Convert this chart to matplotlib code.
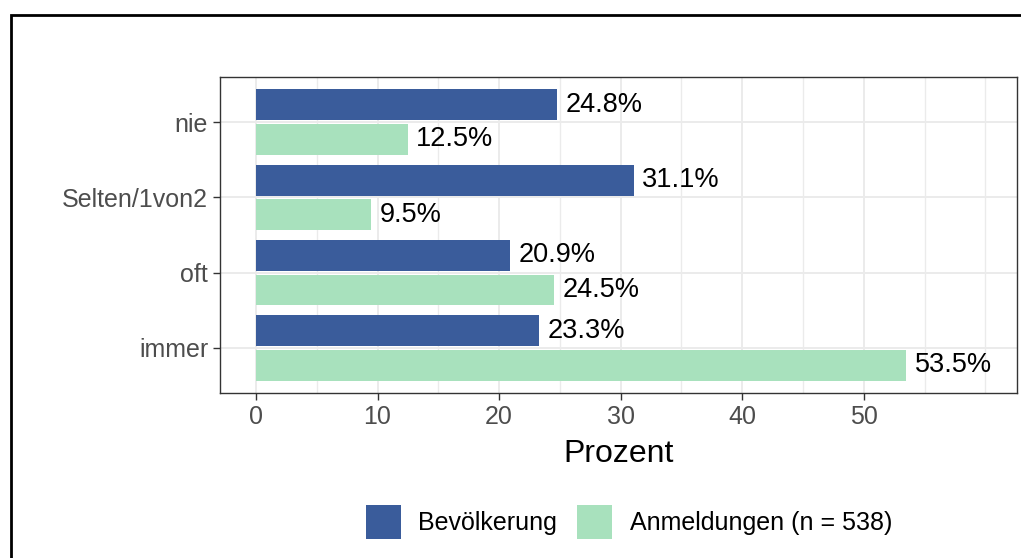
import matplotlib.pyplot as plt
import numpy as np
from matplotlib.patches import Patch, Rectangle

plt.rcParams["font.family"] = ["Liberation Sans", "DejaVu Sans"]

categories = ["nie", "Selten/1von2", "oft", "immer"]
bevoelkerung = [24.8, 31.1, 20.9, 23.3]
anmeldungen = [12.5, 9.5, 24.5, 53.5]
series_names = ["Bevölkerung", "Anmeldungen (n = 538)"]
x_ticks = [0, 10, 20, 30, 40, 50]

blue = "#3A5C9B"
green = "#A8E1BD"
grid_col = "#EBEBEB"

W, H = 1021, 558
fig = plt.figure(figsize=(W / 100, H / 100), dpi=100)
fig.patch.set_facecolor("white")

ax = fig.add_axes([220 / W, 1 - 393 / H, (1017 - 220) / W, (393 - 77) / H])

y = np.arange(len(categories))[::-1]
h = 0.41
d = 0.23
ax.barh(y + d, bevoelkerung, height=h, color=blue, zorder=3)
ax.barh(y - d, anmeldungen, height=h, color=green, zorder=3)

# value labels
for yy, v in zip(y + d, bevoelkerung):
    ax.annotate(f"{v:.1f}%", (v, yy), xytext=(6, 0), textcoords="offset points",
                va="center", ha="left", fontsize=19.5, color="black", zorder=4)
for yy, v in zip(y - d, anmeldungen):
    ax.annotate(f"{v:.1f}%", (v, yy), xytext=(6, 0), textcoords="offset points",
                va="center", ha="left", fontsize=19.5, color="black", zorder=4)

ax.set_xlim(-2.96, 62.6)
ax.set_ylim(-0.6, len(categories) - 0.4)

# grid
for gx in x_ticks:
    ax.axvline(gx, color=grid_col, lw=1.4, zorder=1)
for gx in [5, 15, 25, 35, 45, 55, 60]:
    ax.axvline(gx, color=grid_col, lw=1.0, zorder=1)
for gy in y:
    ax.axhline(gy, color=grid_col, lw=1.4, zorder=1)

ax.set_xticks(x_ticks)
ax.set_xticklabels([str(t) for t in x_ticks])
ax.set_yticks(y)
ax.set_yticklabels(categories)
ax.tick_params(axis="both", length=5, width=1, color="#333333",
               labelsize=18, labelcolor="#4D4D4D", pad=3.5)

for s in ax.spines.values():
    s.set_color("#333333")
    s.set_linewidth(1.0)

ax.set_xlabel("Prozent", fontsize=23, color="black", labelpad=7)

handles = [Patch(facecolor=blue, edgecolor="none"), Patch(facecolor=green, edgecolor="none")]
fig.legend(handles, series_names, loc="center", bbox_to_anchor=(629 / W, 1 - 522 / H),
           ncol=2, frameon=False, fontsize=18, handlelength=1.4, handleheight=1.75,
           handletextpad=0.7, columnspacing=0.8)

# outer frame
fig.patches.append(Rectangle((11 / W, -0.1), 1.2, 1 - 15 / H + 0.1, transform=fig.transFigure,
                             fill=False, edgecolor="black", linewidth=2))

fig.savefig("out.png", dpi=100)
